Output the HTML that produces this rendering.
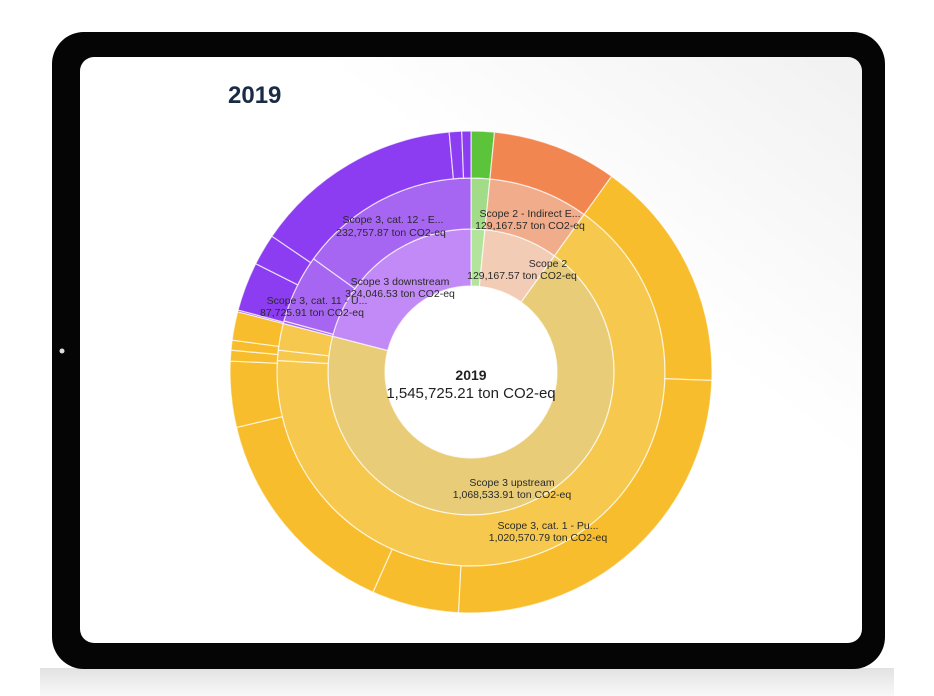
<!DOCTYPE html>
<html><head><meta charset="utf-8"><style>
html,body{margin:0;padding:0;width:934px;height:696px;overflow:hidden;background:#fff;font-family:"Liberation Sans",sans-serif}
</style></head><body>
<svg id="s" width="934" height="696" viewBox="0 0 934 696" xmlns="http://www.w3.org/2000/svg">
<defs>
<linearGradient id="sh" x1="0" y1="0" x2="0" y2="1"><stop offset="0" stop-color="#e2e2e2"/><stop offset="1" stop-color="#f8f8f8"/></linearGradient>
<linearGradient id="bg" x1="0" y1="1" x2="1" y2="0"><stop offset="0.65" stop-color="#ffffff"/><stop offset="1" stop-color="#f1f1f1"/></linearGradient>
</defs>
<rect x="40" y="668" width="854" height="28" fill="url(#sh)"/>
<rect x="52" y="32" width="833" height="637" rx="32" fill="#050505"/>
<rect x="80" y="57" width="782" height="586" rx="14" fill="url(#bg)"/>
<circle cx="62" cy="351" r="2.5" fill="#ddd"/>
<text x="228" y="103" font-size="24" font-weight="bold" fill="#1a2b45">2019</text>
<g id="arcs"></g>
<g font-size="10.5" fill="#2a2a2a" text-anchor="middle">
<text x="530" y="217">Scope 2 - Indirect E...</text><text x="530" y="229">129,167.57 ton CO2-eq</text>
<text x="548" y="267">Scope 2</text><text x="522" y="279">129,167.57 ton CO2-eq</text>
<text x="393" y="223">Scope 3, cat. 12 - E...</text><text x="391" y="236">232,757.87 ton CO2-eq</text>
<text x="400" y="285">Scope 3 downstream</text><text x="400" y="297">324,046.53 ton CO2-eq</text>
<text x="317" y="304">Scope 3, cat. 11 - U...</text><text x="312" y="316">87,725.91 ton CO2-eq</text>
<text x="512" y="486">Scope 3 upstream</text><text x="512" y="498">1,068,533.91 ton CO2-eq</text>
<text x="548" y="529">Scope 3, cat. 1 - Pu...</text><text x="548" y="541">1,020,570.79 ton CO2-eq</text>
</g>
<text x="471" y="380" font-size="14" font-weight="bold" text-anchor="middle" fill="#222">2019</text>
<text x="471" y="398" font-size="15" text-anchor="middle" fill="#222">1,545,725.21 ton CO2-eq</text>
</svg>
<script>
var cx=471,cy=372;
function pt(r,a){a=a*Math.PI/180;return [cx+r*Math.sin(a),cy-r*Math.cos(a)];}
function arc(r0,r1,a0,a1,c){
 var l=(a1-a0)>180?1:0,p1=pt(r1,a0),p2=pt(r1,a1),p3=pt(r0,a1),p4=pt(r0,a0);
 return '<path d="M'+p1+' A'+r1+','+r1+' 0 '+l+' 1 '+p2+' L'+p3+' A'+r0+','+r0+' 0 '+l+' 0 '+p4+'Z" fill="'+c+'" stroke="#fff" stroke-opacity="0.7" stroke-width="1.2"/>';
}
var h='';
var inner=[[0,5.6,'#b2e49c'],[5.6,35.7,'#f3ccb6'],[35.7,284.5,'#e8cc78'],[284.5,360,'#c28af6']];
var mid=[[0,5.6,'#a2dc88'],[5.6,35.7,'#f1ad8b'],[35.7,273.4,'#f6c94e'],[273.4,276.5,'#f6c94e'],[276.5,284.5,'#f6c94e'],[284.5,285.3,'#a766f2'],[285.3,305.7,'#a766f2'],[305.7,360,'#a766f2']];
var out=[[0,5.6,'#5cc43a'],[5.6,35.7,'#f18651'],[35.7,92,'#f8bd2c'],[92,183,'#f8bd2c'],[183,204,'#f8bd2c'],[204,256.7,'#f8bd2c'],[256.7,272.6,'#f8bd2c'],[272.6,275.2,'#f8bd2c'],[275.2,277.6,'#f8bd2c'],[277.6,284.5,'#f8bd2c'],[284.5,284.9,'#8c3df1'],[284.9,296.7,'#8c3df1'],[296.7,304.3,'#8c3df1'],[304.3,354.8,'#8c3df1'],[354.8,357.8,'#8c3df1'],[357.8,360,'#8c3df1']];
inner.forEach(function(s){h+=arc(86,143,s[0],s[1],s[2]);});
mid.forEach(function(s){h+=arc(143,194,s[0],s[1],s[2]);});
out.forEach(function(s){h+=arc(194,241,s[0],s[1],s[2]);});
document.getElementById('arcs').innerHTML=h;
</script>
</body></html>
